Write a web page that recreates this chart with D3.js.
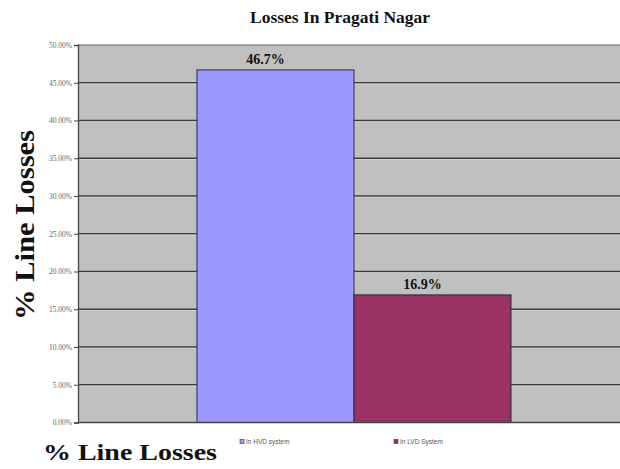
<!DOCTYPE html>
<html><head><meta charset="utf-8">
<script src="https://cdn.jsdelivr.net/npm/d3@7"></script>
<style>body{margin:0;background:#fff}svg{display:block}</style>
</head><body>
<script>
const title = "Losses In Pragati Nagar";
const category = ["Pragati Nagar"];
const seriesNames = ["In HVD system", "In LVD System"];
const seriesValues = [46.7, 16.9];
const dataLabels = ["46.7%", "16.9%"];
const yTicks = [0, 5, 10, 15, 20, 25, 30, 35, 40, 45, 50];
const yTickLabels = ["0.00%","5.00%","10.00%","15.00%","20.00%","25.00%","30.00%","35.00%","40.00%","45.00%","50.00%"];
const colors = ["#9999ff", "#993366"];
const axisTitle = "% Line Losses";

const W = 620, H = 469;
const svg = d3.select("body").append("svg").attr("width", W).attr("height", H);
const L = 78, R = 630, T = 45, B = 422.5;

const y = d3.scaleLinear().domain([0, 50]).range([B, T]);
const x0 = d3.scaleBand().domain(category).range([L, R]).paddingInner(0).paddingOuter(0.379);
const x1 = d3.scaleBand().domain(seriesNames).range([0, x0.bandwidth()]).padding(0);

// plot background
svg.append("rect").attr("x", L).attr("y", T).attr("width", R - L).attr("height", B - T).attr("fill", "#c0c0c0");

// gridlines
svg.append("g").selectAll("line").data(yTicks.filter(d => d > 0)).join("line")
  .attr("x1", L).attr("x2", R).attr("y1", d => y(d)).attr("y2", d => y(d))
  .attr("stroke", d => d === 50 ? "#8a8a8a" : "#3c3c3c").attr("stroke-width", 1.3);
svg.append("g").selectAll("line").data(yTicks.filter(d => d > 0 && d < 50)).join("line")
  .attr("x1", L).attr("x2", R).attr("y1", d => y(d) + 1.3).attr("y2", d => y(d) + 1.3)
  .attr("stroke", "#d8d8d8").attr("stroke-width", 0.8);

// bars
const g = svg.append("g").attr("transform", `translate(${x0(category[0])},0)`);
g.selectAll("rect").data(seriesValues).join("rect")
  .attr("x", (d, i) => x1(seriesNames[i]))
  .attr("y", d => y(d))
  .attr("width", x1.bandwidth())
  .attr("height", d => y(0) - y(d))
  .attr("fill", (d, i) => colors[i])
  .attr("stroke", "#2a2a3a").attr("stroke-width", 1);

// data labels
g.selectAll("text").data(seriesValues).join("text")
  .attr("x", (d, i) => x1(seriesNames[i]) + x1.bandwidth() / 2 - 10)
  .attr("y", d => y(d) - 6)
  .attr("text-anchor", "middle")
  .attr("font-family", "Liberation Serif, Times New Roman, serif")
  .attr("font-weight", "bold").attr("font-size", 14).attr("fill", "#111")
  .text((d, i) => dataLabels[i]);

// y axis
const yAxis = d3.axisLeft(y).tickValues(yTicks).tickSize(4).tickPadding(2)
  .tickFormat((d, i) => yTickLabels[i]);
const ax = svg.append("g").attr("transform", `translate(${L},0)`).call(yAxis);
ax.select(".domain").attr("stroke", "#444").attr("stroke-width", 1.3);
ax.selectAll(".tick line").attr("stroke", "#444");
ax.selectAll(".tick text").attr("font-family", "Liberation Serif, Times New Roman, serif")
  .attr("font-size", 7.5).attr("fill", "#666");

// bottom axis line
svg.append("line").attr("x1", L).attr("x2", R).attr("y1", B).attr("y2", B)
  .attr("stroke", "#444").attr("stroke-width", 1.3);

// title
svg.append("text").attr("x", 340).attr("y", 23).attr("text-anchor", "middle")
  .attr("font-family", "Liberation Serif, Times New Roman, serif").attr("font-weight", "bold")
  .attr("font-size", 16.5).attr("textLength", 180).attr("lengthAdjust", "spacingAndGlyphs")
  .attr("fill", "#111").text(title);

// rotated axis title
svg.append("text").attr("transform", "translate(34,225) rotate(-90)").attr("text-anchor", "middle")
  .attr("font-family", "Liberation Serif, Times New Roman, serif").attr("font-weight", "bold")
  .attr("font-size", 27).attr("textLength", 190).attr("lengthAdjust", "spacingAndGlyphs")
  .attr("fill", "#111").text(axisTitle);

// bottom axis title
svg.append("text").attr("x", 43).attr("y", 460)
  .attr("font-family", "Liberation Serif, Times New Roman, serif").attr("font-weight", "bold")
  .attr("font-size", 24).attr("textLength", 174).attr("lengthAdjust", "spacingAndGlyphs")
  .attr("fill", "#111").text(axisTitle);

// legend
const legX = [240, 394];
const lg = svg.append("g").selectAll("g").data(seriesNames).join("g")
  .attr("transform", (d, i) => `translate(${legX[i]},442)`);
lg.append("rect").attr("x", 0).attr("y", -2.5).attr("width", 4).attr("height", 4)
  .attr("fill", (d, i) => colors[i]).attr("stroke", "#333").attr("stroke-width", 0.6);
lg.append("text").attr("x", 6).attr("y", 2).attr("font-family", "Liberation Sans, Arial, sans-serif")
  .attr("font-size", 6.5).attr("fill", "#555").text(d => d);
</script>
</body></html>
